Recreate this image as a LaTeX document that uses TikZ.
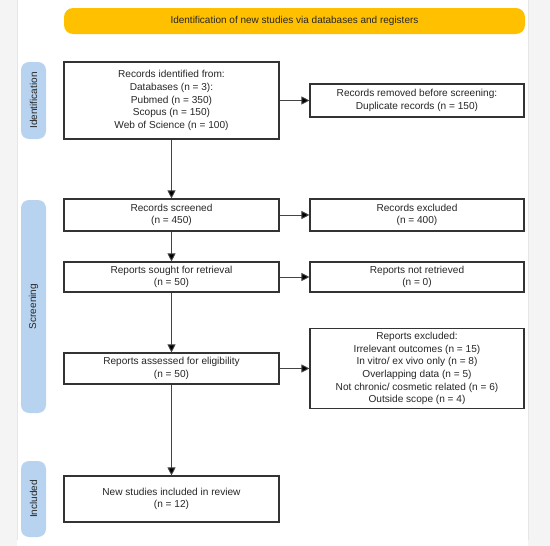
\documentclass[tikz,border=0pt]{standalone}
\usepackage{fontspec}
\setmainfont{Liberation Sans}
\usetikzlibrary{arrows.meta}
\definecolor{bannery}{HTML}{FFC000}
\definecolor{sideblue}{HTML}{B7D3F0}
\definecolor{pagegray}{HTML}{F4F4F4}
\definecolor{edgegray}{HTML}{E6E6E6}
\definecolor{linegray}{HTML}{333333}
\definecolor{arrowgray}{HTML}{444444}
\tikzset{
  flowbox/.style={draw=linegray, line width=1.1pt, fill=white, align=center,
    font=\fontsize{10.1}{12.6}\selectfont, inner sep=2pt, text=black!85},
  sidelabel/.style={fill=sideblue, rounded corners=8pt, minimum width=25pt},
  sidetext/.style={rotate=90, font=\fontsize{10}{11}\selectfont, text=black!85},
  flowarrow/.style={draw=arrowgray, line width=0.9pt, -{Triangle[width=8pt,length=8pt,fill=black]}},
}
\begin{document}
\begin{tikzpicture}[x=1pt,y=-1pt]
\useasboundingbox (0,0) rectangle (550,546);
% page background strips
\fill[pagegray] (0,0) rectangle (17,546);
\fill[pagegray] (528,0) rectangle (550,546);
\draw[edgegray, line width=0.6pt] (17,0) -- (17,540);
\draw[edgegray, line width=0.6pt] (528,0) -- (528,540);
% banner
\node[fill=bannery, rounded corners=9pt, minimum width=461pt, minimum height=26pt,
  font=\fontsize{10}{11}\selectfont, text=black!85] (banner) at (294.5,21)
  {Identification of new studies via databases and registers};
% side labels
\node[sidelabel, minimum height=77pt] (sideid) at (33.5,100.5) {};
\node[sidetext] (sideidt) at (sideid.center) {Identification};
\node[sidelabel, minimum height=213pt] (sidescr) at (33.5,306.5) {};
\node[sidetext] (sidescrt) at (sidescr.center) {Screening};
\node[sidelabel, minimum height=76pt] (sideinc) at (33.5,499) {};
\node[sidetext] (sideinct) at (sideinc.center) {Included};
% left column
\node[flowbox, minimum width=215pt, minimum height=77pt] (ident) at (171.5,100.5)
  {Records identified from:\\Databases (n = 3):\\Pubmed (n = 350)\\Scopus (n = 150)\\Web of Science (n = 100)};
\node[flowbox, minimum width=215pt, minimum height=32pt] (screened) at (171.5,215)
  {Records screened\\(n = 450)};
\node[flowbox, minimum width=215pt, minimum height=30pt] (sought) at (171.5,277)
  {Reports sought for retrieval\\(n = 50)};
\node[flowbox, minimum width=215pt, minimum height=31pt] (assessed) at (171.5,368.5)
  {Reports assessed for eligibility\\(n = 50)};
\node[flowbox, minimum width=215pt, minimum height=46pt] (included) at (171.5,499)
  {New studies included in review\\(n = 12)};
% right column
\node[flowbox, minimum width=214pt, minimum height=33pt] (removed) at (417,100.5)
  {Records removed before screening:\\Duplicate records (n = 150)};
\node[flowbox, minimum width=214pt, minimum height=32pt] (excluded) at (417,215)
  {Records excluded\\(n = 400)};
\node[flowbox, minimum width=214pt, minimum height=30pt] (notret) at (417,277)
  {Reports not retrieved\\(n = 0)};
\node[flowbox, minimum width=214pt, minimum height=80pt] (repexcl) at (417,368.5)
  {Reports excluded:\\Irrelevant outcomes (n = 15)\\In vitro/ ex vivo only (n = 8)\\Overlapping data (n = 5)\\Not chronic/ cosmetic related (n = 6)\\Outside scope (n = 4)};
% arrows
\draw[flowarrow] (ident) -- (screened);
\draw[flowarrow] (screened) -- (sought);
\draw[flowarrow] (sought) -- (assessed);
\draw[flowarrow] (assessed) -- (included);
\draw[flowarrow] (ident) -- (removed);
\draw[flowarrow] (screened) -- (excluded);
\draw[flowarrow] (sought) -- (notret);
\draw[flowarrow] (assessed) -- (repexcl);
\end{tikzpicture}
\end{document}
